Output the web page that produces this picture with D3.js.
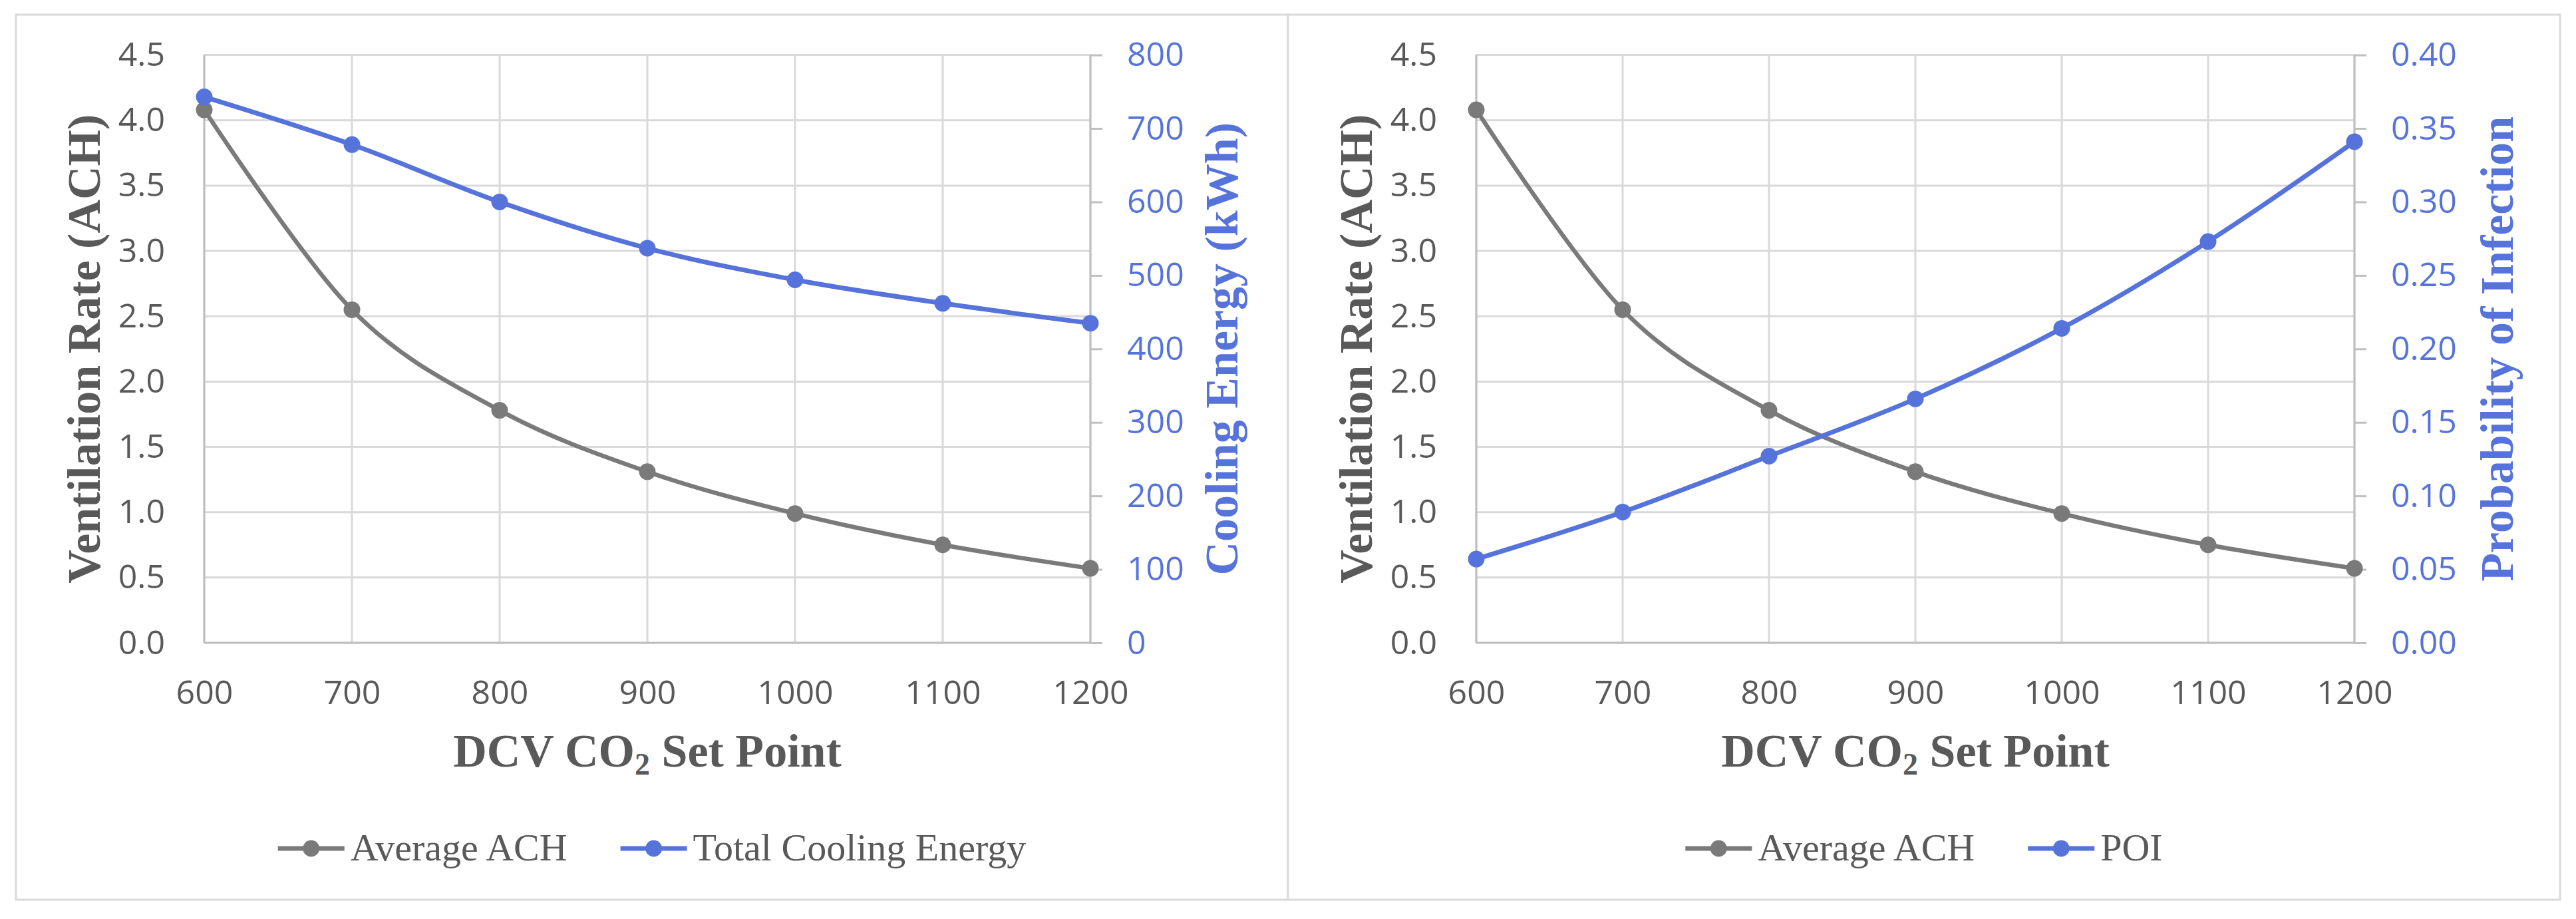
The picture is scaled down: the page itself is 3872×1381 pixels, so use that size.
<!DOCTYPE html>
<html>
<head>
<meta charset="utf-8">
<script src="https://cdn.jsdelivr.net/npm/d3@7"></script>
<style>
  html, body { margin: 0; padding: 0; background: #ffffff; }
  svg { display: block; }
</style>
</head>
<body>
<svg id="chart" width="3872" height="1381"></svg>
<script>
// ---------------- data ----------------
const setPoints = [600, 700, 800, 900, 1000, 1100, 1200];
const achValues = [4.08, 2.55, 1.78, 1.31, 0.99, 0.75, 0.57];
const coolingValues = [743, 678, 600, 537, 494, 462, 435];
const poiValues = [0.057, 0.089, 0.127, 0.166, 0.214, 0.273, 0.341];
const achTicks = [0, 0.5, 1.0, 1.5, 2.0, 2.5, 3.0, 3.5, 4.0, 4.5];
const coolingTicks = [0, 100, 200, 300, 400, 500, 600, 700, 800];
const poiTicks = [0, 0.05, 0.10, 0.15, 0.20, 0.25, 0.30, 0.35, 0.40];
const xTicks = [600, 700, 800, 900, 1000, 1100, 1200];

const leftSeriesName = "Average ACH";
const leftAxisTitle = "Ventilation Rate (ACH)";
const xTitleMain = "DCV CO";
const xTitleSub = "2";
const xTitleRest = " Set Point";

// ---------------- style ----------------
const GRAY = "#7a7a7a";
const BLUE = "#5673dc";
const TEXT = "#595959";
const GRID = "#d9d9d9";
const AXIS = "#bfbfbf";
const TICKFONT = "'Open Sans', 'Noto Sans', sans-serif";
const SERIF = "'Liberation Serif', 'Times New Roman', serif";

const panels = [
  {
    frameX: 24, frameW: 1912,
    plotL: 307, plotR: 1639,
    secValues: coolingValues, secTicks: coolingTicks, secMax: 800,
    secFormat: d3.format("d"),
    secName: "Total Cooling Energy",
    secTitle: "Cooling Energy (kWh)",
    secTitleX: 1860
  },
  {
    frameX: 1936, frameW: 1912,
    plotL: 2219, plotR: 3539,
    secValues: poiValues, secTicks: poiTicks, secMax: 0.40,
    secFormat: d3.format(".2f"),
    secName: "POI",
    secTitle: "Probability of Infection",
    secTitleX: 3777
  }
];

const frameTop = 22, frameBottom = 1352;
const plotTop = 82.6, plotBottom = 966;

const svg = d3.select("#chart");
svg.append("rect").attr("x", 0).attr("y", 0).attr("width", 3872).attr("height", 1381).attr("fill", "#fff");

panels.forEach(p => {
  const g = svg.append("g");

  // frame
  g.append("rect")
    .attr("x", p.frameX).attr("y", frameTop)
    .attr("width", p.frameW).attr("height", frameBottom - frameTop)
    .attr("fill", "#fff").attr("stroke", GRID).attr("stroke-width", 3);

  const x = d3.scaleLinear().domain([600, 1200]).range([p.plotL, p.plotR]);
  const yL = d3.scaleLinear().domain([0, 4.5]).range([plotBottom, plotTop]);
  const yR = d3.scaleLinear().domain([0, p.secMax]).range([plotBottom, plotTop]);

  // horizontal gridlines
  g.append("g").selectAll("line").data(achTicks).join("line")
    .attr("x1", p.plotL).attr("x2", p.plotR)
    .attr("y1", d => yL(d)).attr("y2", d => yL(d))
    .attr("stroke", GRID).attr("stroke-width", 3);
  // vertical gridlines
  g.append("g").selectAll("line").data(xTicks).join("line")
    .attr("x1", d => x(d)).attr("x2", d => x(d))
    .attr("y1", plotTop).attr("y2", plotBottom)
    .attr("stroke", GRID).attr("stroke-width", 3);

  // axis lines
  g.append("line").attr("x1", p.plotL).attr("x2", p.plotL).attr("y1", plotTop).attr("y2", plotBottom)
    .attr("stroke", AXIS).attr("stroke-width", 3);
  g.append("line").attr("x1", p.plotL).attr("x2", p.plotR).attr("y1", plotBottom).attr("y2", plotBottom)
    .attr("stroke", AXIS).attr("stroke-width", 3);

  // secondary axis using d3.axisRight
  const rAxis = d3.axisRight(yR).tickValues(p.secTicks).tickFormat(p.secFormat).tickSize(18).tickPadding(37);
  const ra = g.append("g").attr("transform", `translate(${p.plotR},0)`).call(rAxis);
  ra.select(".domain").attr("stroke", AXIS).attr("stroke-width", 3).attr("d", `M0,${plotTop}V${plotBottom}`);
  ra.selectAll(".tick line").attr("stroke", AXIS).attr("stroke-width", 3);
  ra.selectAll(".tick text").attr("fill", BLUE).attr("font-family", TICKFONT).attr("font-size", 50);

  // left axis labels
  const lAxis = d3.axisLeft(yL).tickValues(achTicks).tickFormat(d3.format(".1f")).tickSize(0).tickPadding(59);
  const la = g.append("g").attr("transform", `translate(${p.plotL},0)`).call(lAxis);
  la.select(".domain").remove();
  la.selectAll(".tick text").attr("fill", TEXT).attr("font-family", TICKFONT).attr("font-size", 50);

  // bottom axis labels
  const bAxis = d3.axisBottom(x).tickValues(xTicks).tickFormat(d3.format("d")).tickSize(0).tickPadding(56);
  const ba = g.append("g").attr("transform", `translate(0,${plotBottom})`).call(bAxis);
  ba.select(".domain").remove();
  ba.selectAll(".tick text").attr("fill", TEXT).attr("font-family", TICKFONT).attr("font-size", 50);

  // series
  const curve = d3.curveCatmullRom.alpha(0);
  const lineL = d3.line().x((d, i) => x(setPoints[i])).y(d => yL(d)).curve(curve);
  const lineR = d3.line().x((d, i) => x(setPoints[i])).y(d => yR(d)).curve(curve);

  g.append("path").datum(achValues).attr("d", lineL).attr("fill", "none")
    .attr("stroke", GRAY).attr("stroke-width", 6.5).attr("stroke-linejoin", "round");
  g.append("g").selectAll("circle").data(achValues).join("circle")
    .attr("cx", (d, i) => x(setPoints[i])).attr("cy", d => yL(d)).attr("r", 12.5).attr("fill", GRAY);

  g.append("path").datum(p.secValues).attr("d", lineR).attr("fill", "none")
    .attr("stroke", BLUE).attr("stroke-width", 7).attr("stroke-linejoin", "round");
  g.append("g").selectAll("circle").data(p.secValues).join("circle")
    .attr("cx", (d, i) => x(setPoints[i])).attr("cy", d => yR(d)).attr("r", 12.5).attr("fill", BLUE);

  // titles
  const midY = (plotTop + plotBottom) / 2;
  g.append("text")
    .attr("transform", `translate(${p.plotL - 157},${midY}) rotate(-90)`)
    .attr("text-anchor", "middle")
    .attr("font-family", SERIF).attr("font-weight", "bold").attr("font-size", 70)
    .attr("fill", TEXT).text(leftAxisTitle);

  g.append("text")
    .attr("transform", `translate(${p.secTitleX},${midY}) rotate(-90)`)
    .attr("text-anchor", "middle")
    .attr("font-family", SERIF).attr("font-weight", "bold").attr("font-size", 70)
    .attr("fill", BLUE).text(p.secTitle);

  const xt = g.append("text")
    .attr("x", (p.plotL + p.plotR) / 2).attr("y", 1152)
    .attr("text-anchor", "middle")
    .attr("font-family", SERIF).attr("font-weight", "bold").attr("font-size", 70)
    .attr("fill", TEXT);
  xt.append("tspan").text(xTitleMain);
  xt.append("tspan").attr("font-size", 46).attr("dy", 12).text(xTitleSub);
  xt.append("tspan").attr("dy", -12).text(xTitleRest);

  // legend
  const items = [{ name: leftSeriesName, color: GRAY }, { name: p.secName, color: BLUE }];
  const leg = g.append("g");
  const legendY = 1275;
  let cursor = 0;
  const lineLen = 100, gapText = 9, gapItem = 80;
  items.forEach((it, k) => {
    const ig = leg.append("g").attr("transform", `translate(${cursor},0)`);
    ig.append("line").attr("x1", 0).attr("x2", lineLen).attr("y1", legendY).attr("y2", legendY)
      .attr("stroke", it.color).attr("stroke-width", 7);
    ig.append("circle").attr("cx", lineLen / 2).attr("cy", legendY).attr("r", 12.5).attr("fill", it.color);
    const t = ig.append("text").attr("x", lineLen + gapText).attr("y", 1293)
      .attr("font-family", SERIF).attr("font-size", 58).attr("fill", TEXT).text(it.name);
    const w = t.node().getComputedTextLength();
    cursor += lineLen + gapText + w + (k < items.length - 1 ? gapItem : 0);
  });
  const cx = p.frameX + p.frameW / 2;
  leg.attr("transform", `translate(${cx - cursor / 2},0)`);
});
</script>
</body>
</html>
